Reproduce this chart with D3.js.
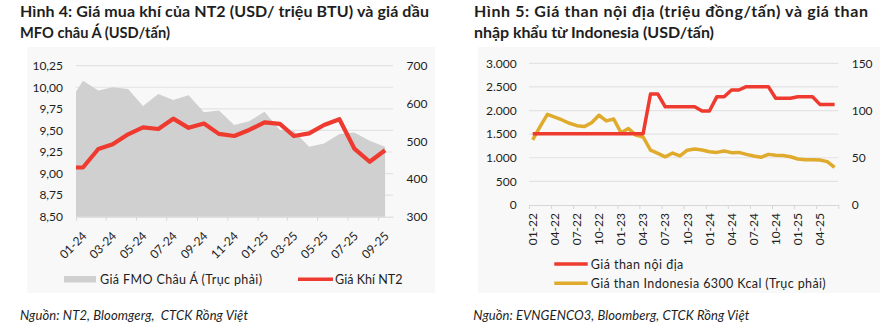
<!DOCTYPE html>
<html><head><meta charset="utf-8">
<script src="https://cdn.jsdelivr.net/npm/d3@7"></script>
<style>
body{margin:0;background:#fff;}
svg{display:block;font-family:Lato,'Open Sans',sans-serif;}
</style></head><body>
<svg id="c" width="895" height="332"></svg>
<script>
// ---------- Hình 4 data ----------
const dates4 = ["2024-01-01","2024-01-15","2024-02-15","2024-03-15","2024-04-15","2024-05-15","2024-06-15","2024-07-15","2024-08-15","2024-09-15","2024-10-15","2024-11-15","2024-12-15","2025-01-15","2025-02-15","2025-03-15","2025-04-15","2025-05-15","2025-06-15","2025-07-15","2025-08-15","2025-09-15"];
const gasNT2 = [9.07,9.07,9.285,9.34,9.455,9.536,9.516,9.636,9.53,9.58,9.46,9.435,9.505,9.594,9.575,9.435,9.466,9.563,9.63,9.29,9.137,9.27];
const mfoAsia = [631,660,634,643,638,593,625,609,622,577,581,543,553,578,530,527,485,494,519,523,501,485];
const leftTicks4 = [8.5,8.75,9,9.25,9.5,9.75,10,10.25];
const rightTicks4 = [300,400,500,600,700];

// ---------- Hình 5 data ----------
const months5 = ["01-22","02-22","03-22","04-22","05-22","06-22","07-22","08-22","09-22","10-22","11-22","12-22","01-23","02-23","03-23","04-23","05-23","06-23","07-23","08-23","09-23","10-23","11-23","12-23","01-24","02-24","03-24","04-24","05-24","06-24","07-24","08-24","09-24","10-24","11-24","12-24","01-25","02-25","03-25","04-25","05-25","06-25"];
const coalDomestic = [1510,1510,1510,1510,1510,1510,1510,1510,1510,1510,1510,1510,1510,1510,1510,1510,2350,2350,2080,2080,2080,2080,2080,1990,1990,2290,2290,2435,2435,2505,2505,2505,2505,2260,2260,2260,2290,2290,2290,2130,2130,2130];
const coalIndo = [69,83,96,93,90,86.5,84,83,87,95,89,91,76.5,81,74,72,58,54.7,51,55,52,58,59.3,58.2,56.4,55.7,57.2,55.4,55.7,53.6,51.9,50.5,53.6,52.6,52.3,51.1,48.7,48,48,47.6,45.9,39.9];
const leftTicks5 = [0,500,1000,1500,2000,2500,3000];
const rightTicks5 = [0,50,100,150];

const RED = "#ee3a2f", GOLD = "#e0ab2c", AREA = "#d0d0d0", GRID = "#e3e3e3", TXT = "#1e1e1e";
const loc = d3.formatLocale({decimal:",", thousands:".", grouping:[3], currency:["",""]});
const svg = d3.select("#c");

// panel backgrounds
svg.append("rect").attr("x",27).attr("y",47).attr("width",408).attr("height",246).attr("fill","#f8f8f8");
svg.append("rect").attr("x",478).attr("y",47).attr("width",402).attr("height",246).attr("fill","#f8f8f8");

function txt(x,y,s,opt={}){
  const t = svg.append("text").attr("x",x).attr("y",y).text(s)
    .attr("font-size",opt.size||12).attr("fill",TXT)
    .attr("font-weight",opt.weight||"normal").attr("font-style",opt.style||"normal")
    .attr("xml:space","preserve").style("white-space","pre");
  if(opt.len) t.attr("textLength",opt.len);
  if(opt.adj) t.attr("lengthAdjust",opt.adj);
  if(opt.anchor) t.attr("text-anchor",opt.anchor);
  return t;
}
// titles
txt(20,16.5,"Hình 4: Giá mua khí của NT2 (USD/ triệu BTU) và giá dầu",{size:16,weight:"bold",len:409});
txt(20,38,"MFO châu Á (USD/tấn)",{size:16,weight:"bold",len:150,adj:"spacingAndGlyphs"});
txt(474,16.5,"Hình 5: Giá than nội địa (triệu đồng/tấn) và giá than",{size:16,weight:"bold",len:394});
txt(474,38,"nhập khẩu từ Indonesia (USD/tấn)",{size:16,weight:"bold",len:240});

// ================= Chart 4 =================
const pu = d3.utcParse("%Y-%m-%d");
const d4 = dates4.map(pu);
const x4 = d3.scaleUtc().domain([pu("2024-01-01"),pu("2025-10-01")]).range([76,393]);
const yL4 = d3.scaleLinear().domain([8.5,10.25]).range([216.7,65.7]);
const yR4 = d3.scaleLinear().domain([300,700]).range([216.7,65.7]);

const g4 = svg.append("g");
g4.append("g").selectAll("line").data(leftTicks4.slice(1)).join("line")
  .attr("x1",76).attr("x2",393).attr("y1",d=>yL4(d)).attr("y2",d=>yL4(d))
  .attr("stroke",GRID).attr("stroke-width",1.2);
g4.append("path").datum(mfoAsia)
  .attr("d",d3.area().x((d,i)=>x4(d4[i])).y0(yR4(300)).y1(d=>yR4(d)))
  .attr("fill",AREA);
g4.append("path").datum(gasNT2)
  .attr("d",d3.line().x((d,i)=>x4(d4[i])).y(d=>yL4(d)))
  .attr("fill","none").attr("stroke",RED).attr("stroke-width",4.2).attr("stroke-linejoin","round");
// x axis
const ax4 = g4.append("g").attr("transform","translate(0,216.7)")
  .call(d3.axisBottom(x4).ticks(d3.utcMonth.every(2)).tickFormat(d3.utcFormat("%m-%y")).tickSize(4).tickSizeOuter(0));
ax4.select(".domain").attr("stroke","#d6d6d6");
ax4.selectAll(".tick line").attr("stroke","#d6d6d6");
ax4.selectAll(".tick text").attr("font-size",12).attr("fill",TXT).attr("font-family","Lato")
  .attr("text-anchor","end").attr("y",0).attr("dy",0)
  .attr("transform","translate(11,20) rotate(-45)");
// y axes
const ayL4 = g4.append("g").attr("transform","translate(63,0)")
  .call(d3.axisLeft(yL4).tickValues(leftTicks4).tickFormat(loc.format(".2f")).tickSize(0).tickPadding(0));
ayL4.select(".domain").remove();
ayL4.selectAll("text").attr("font-size",12).attr("fill",TXT).attr("font-family","Lato");
const ayR4 = g4.append("g").attr("transform","translate(406.5,0)")
  .call(d3.axisRight(yR4).tickValues(rightTicks4).tickSize(0).tickPadding(0));
ayR4.select(".domain").remove();
ayR4.selectAll("text").attr("font-size",12).attr("fill",TXT).attr("font-family","Lato");
// legend 4
svg.append("rect").attr("x",64).attr("y",276).attr("width",32).attr("height",6.5).attr("fill",AREA);
txt(100,283.5,"Giá FMO Châu Á (Trục phải)",{size:12.5,len:162});
svg.append("line").attr("x1",298).attr("x2",333).attr("y1",279.3).attr("y2",279.3).attr("stroke",RED).attr("stroke-width",3.5);
txt(335,283.5,"Giá Khí NT2",{size:12.5,len:67.5});
txt(20,319.5,"Nguồn: NT2, Bloomgerg,  CTCK Rồng Việt",{size:13,style:"italic",len:228});

// ================= Chart 5 =================
const x5 = d3.scaleBand().domain(months5).range([529,838.3]).padding(0);
const cx5 = m => x5(m)+x5.bandwidth()/2;
const yL5 = d3.scaleLinear().domain([0,3000]).range([205,63.3]);
const yR5 = d3.scaleLinear().domain([0,150]).range([205,63.3]);
const g5 = svg.append("g");
g5.append("g").selectAll("line").data(leftTicks5.slice(1)).join("line")
  .attr("x1",529).attr("x2",838.3).attr("y1",d=>yL5(d)).attr("y2",d=>yL5(d))
  .attr("stroke",GRID).attr("stroke-width",1.2);
// tick marks at category boundaries
const xb5 = d3.scaleLinear().domain([0,months5.length]).range([529,838.3]);
const at5 = g5.append("g").attr("transform","translate(0,205)")
  .call(d3.axisBottom(xb5).tickValues(d3.range(0,months5.length+1,3)).tickFormat("").tickSize(4).tickSizeOuter(0));
at5.select(".domain").attr("stroke","#d6d6d6");
at5.selectAll(".tick line").attr("stroke","#d6d6d6");
// labels
const al5 = g5.append("g").attr("transform","translate(0,205)")
  .call(d3.axisBottom(x5).tickValues(months5.filter((m,i)=>i%3===0)).tickSize(0));
al5.select(".domain").remove();
al5.selectAll(".tick text").attr("font-size",12).attr("fill",TXT).attr("font-family","Lato")
  .attr("text-anchor","end").attr("y",0).attr("dy",0)
  .attr("transform","translate(4.2,8) rotate(-90)");
g5.append("path").datum(coalIndo)
  .attr("d",d3.line().x((d,i)=>cx5(months5[i])).y(d=>yR5(d)))
  .attr("fill","none").attr("stroke",GOLD).attr("stroke-width",3.5).attr("stroke-linejoin","round");
g5.append("path").datum(coalDomestic)
  .attr("d",d3.line().x((d,i)=>cx5(months5[i])).y(d=>yL5(d)))
  .attr("fill","none").attr("stroke",RED).attr("stroke-width",3.5).attr("stroke-linejoin","round");
const ayL5 = g5.append("g").attr("transform","translate(516.7,0)")
  .call(d3.axisLeft(yL5).tickValues(leftTicks5).tickFormat(loc.format(",")).tickSize(0).tickPadding(0));
ayL5.select(".domain").remove();
ayL5.selectAll("text").attr("font-size",12).attr("fill",TXT).attr("font-family","Lato");
const ayR5 = g5.append("g").attr("transform","translate(851.7,0)")
  .call(d3.axisRight(yR5).tickValues(rightTicks5).tickSize(0).tickPadding(0));
ayR5.select(".domain").remove();
ayR5.selectAll("text").attr("font-size",12).attr("fill",TXT).attr("font-family","Lato");
// legend 5
svg.append("line").attr("x1",554.3).attr("x2",587.7).attr("y1",264).attr("y2",264).attr("stroke",RED).attr("stroke-width",3.5);
txt(590.7,268.8,"Giá than nội địa",{size:12.5,len:92.6});
svg.append("line").attr("x1",554.3).attr("x2",587.7).attr("y1",283.3).attr("y2",283.3).attr("stroke",GOLD).attr("stroke-width",3.5);
txt(590.7,288,"Giá than Indonesia 6300 Kcal (Trục phải)",{size:12.5,len:235});
txt(473.3,319.5,"Nguồn: EVNGENCO3, Bloomberg, CTCK Rồng Việt",{size:13,style:"italic",len:276});
</script>
</body></html>
